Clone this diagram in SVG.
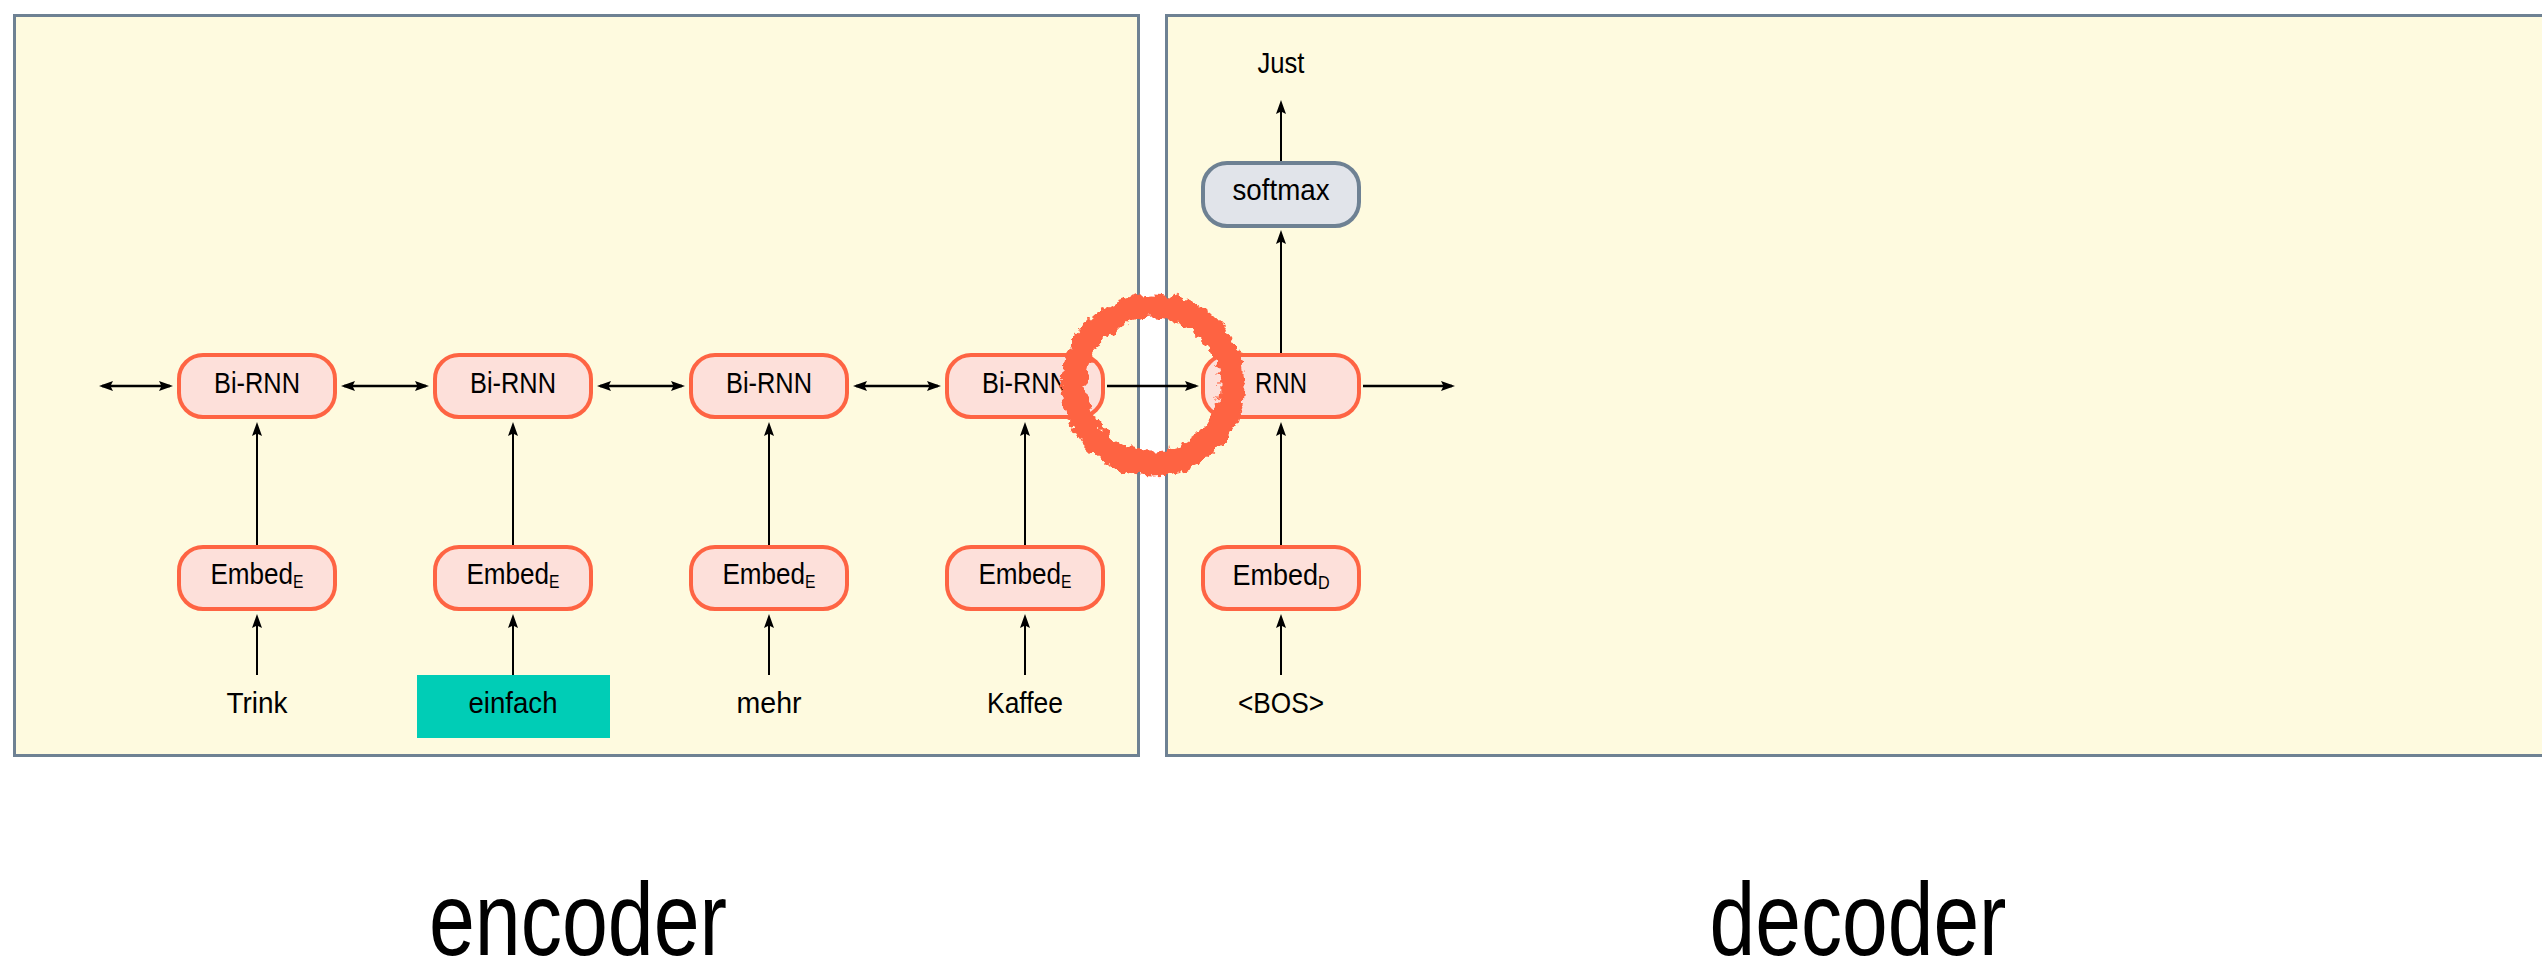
<svg xmlns="http://www.w3.org/2000/svg" width="2542" height="959" viewBox="0 0 2542 959">
  <defs>
    <style>
      .panel { fill: #fefadf; stroke: #6e8193; stroke-width: 3; }
      .node rect { fill: #fde0da; stroke: #fe6443; stroke-width: 4; }
      .node.gray rect { fill: #e1e4ea; stroke: #6e8193; }
      text { font-family: "Liberation Sans", Arial, sans-serif; fill: #000; }
      .lbl { font-size: 30px; text-anchor: middle; }
      .sub { font-size: 18px; }
      .big { font-size: 104px; text-anchor: middle; }
      .h { stroke: #000; stroke-width: 2.5; fill: none; }
      .v { stroke: #000; stroke-width: 2; fill: none; }
      .ring { fill: none; stroke: #fe6443; stroke-width: 25; }
    </style>
    <marker id="ah" viewBox="0 0 14 10" refX="11" refY="5" markerWidth="14" markerHeight="10" markerUnits="userSpaceOnUse" orient="auto-start-reverse">
      <path d="M0,0 L14,5 L0,10 L2.5,5 Z" fill="#000"/>
    </marker>
    <filter id="rough" x="-20%" y="-20%" width="140%" height="140%">
      <feTurbulence type="fractalNoise" baseFrequency="0.11" numOctaves="3" seed="7" result="n"/>
      <feDisplacementMap in="SourceGraphic" in2="n" scale="14" xChannelSelector="R" yChannelSelector="G"/>
    </filter>
  </defs>

  <!-- panels -->
  <g id="encoder-panel">
    <rect class="panel" x="14.5" y="15.5" width="1124" height="740"/>
  </g>
  <g id="decoder-panel">
    <rect class="panel" x="1166.5" y="15.5" width="1420" height="740"/>
  </g>

  <!-- connectors -->
  <g id="connectors">
    <line class="h" x1="102" y1="386" x2="170" y2="386" marker-start="url(#ah)" marker-end="url(#ah)"/>
    <line class="h" x1="344" y1="386" x2="426" y2="386" marker-start="url(#ah)" marker-end="url(#ah)"/>
    <line class="h" x1="600" y1="386" x2="682" y2="386" marker-start="url(#ah)" marker-end="url(#ah)"/>
    <line class="h" x1="856" y1="386" x2="938" y2="386" marker-start="url(#ah)" marker-end="url(#ah)"/>
    <line class="h" x1="1107" y1="386" x2="1196" y2="386" marker-end="url(#ah)"/>
    <line class="h" x1="1363" y1="386" x2="1452" y2="386" marker-end="url(#ah)"/>

    <line class="v" x1="257" y1="545" x2="257" y2="425" marker-end="url(#ah)"/>
    <line class="v" x1="513" y1="545" x2="513" y2="425" marker-end="url(#ah)"/>
    <line class="v" x1="769" y1="545" x2="769" y2="425" marker-end="url(#ah)"/>
    <line class="v" x1="1025" y1="545" x2="1025" y2="425" marker-end="url(#ah)"/>
    <line class="v" x1="1281" y1="545" x2="1281" y2="425" marker-end="url(#ah)"/>

    <line class="v" x1="257" y1="675" x2="257" y2="617" marker-end="url(#ah)"/>
    <line class="v" x1="513" y1="675" x2="513" y2="617" marker-end="url(#ah)"/>
    <line class="v" x1="769" y1="675" x2="769" y2="617" marker-end="url(#ah)"/>
    <line class="v" x1="1025" y1="675" x2="1025" y2="617" marker-end="url(#ah)"/>
    <line class="v" x1="1281" y1="675" x2="1281" y2="617" marker-end="url(#ah)"/>

    <line class="v" x1="1281" y1="353" x2="1281" y2="233" marker-end="url(#ah)"/>
    <line class="v" x1="1281" y1="161" x2="1281" y2="103" marker-end="url(#ah)"/>
  </g>

  <!-- encoder recurrent cells -->
  <g id="birnn-1" class="node"><rect x="179" y="355" width="156" height="62" rx="24"/><text class="lbl" x="257" y="393" textLength="86" lengthAdjust="spacingAndGlyphs">Bi-RNN</text></g>
  <g id="birnn-2" class="node"><rect x="435" y="355" width="156" height="62" rx="24"/><text class="lbl" x="513" y="393" textLength="86" lengthAdjust="spacingAndGlyphs">Bi-RNN</text></g>
  <g id="birnn-3" class="node"><rect x="691" y="355" width="156" height="62" rx="24"/><text class="lbl" x="769" y="393" textLength="86" lengthAdjust="spacingAndGlyphs">Bi-RNN</text></g>
  <g id="birnn-4" class="node"><rect x="947" y="355" width="156" height="62" rx="24"/><text class="lbl" x="1025" y="393" textLength="86" lengthAdjust="spacingAndGlyphs">Bi-RNN</text></g>

  <!-- encoder embeddings (labels narrowed with a horizontal scale) -->
  <g id="embed-e-1" class="node"><rect x="179" y="547" width="156" height="62" rx="24"/><text class="lbl" transform="translate(257 584) scale(0.87 1)">Embed<tspan class="sub" dy="4">E</tspan></text></g>
  <g id="embed-e-2" class="node"><rect x="435" y="547" width="156" height="62" rx="24"/><text class="lbl" transform="translate(513 584) scale(0.87 1)">Embed<tspan class="sub" dy="4">E</tspan></text></g>
  <g id="embed-e-3" class="node"><rect x="691" y="547" width="156" height="62" rx="24"/><text class="lbl" transform="translate(769 584) scale(0.87 1)">Embed<tspan class="sub" dy="4">E</tspan></text></g>
  <g id="embed-e-4" class="node"><rect x="947" y="547" width="156" height="62" rx="24"/><text class="lbl" transform="translate(1025 584) scale(0.87 1)">Embed<tspan class="sub" dy="4">E</tspan></text></g>

  <!-- source words -->
  <g id="word-trink"><text class="lbl" x="257" y="713" textLength="61" lengthAdjust="spacingAndGlyphs">Trink</text></g>
  <g id="word-einfach"><rect x="417" y="675" width="193" height="63" fill="#00cdb6"/><text class="lbl" x="513" y="713" textLength="89" lengthAdjust="spacingAndGlyphs">einfach</text></g>
  <g id="word-mehr"><text class="lbl" x="769" y="713" textLength="65" lengthAdjust="spacingAndGlyphs">mehr</text></g>
  <g id="word-kaffee"><text class="lbl" x="1025" y="713" textLength="76" lengthAdjust="spacingAndGlyphs">Kaffee</text></g>

  <!-- decoder -->
  <g id="rnn" class="node"><rect x="1203" y="355" width="156" height="62" rx="24"/><text class="lbl" x="1281" y="393" textLength="52" lengthAdjust="spacingAndGlyphs">RNN</text></g>
  <g id="embed-d" class="node"><rect x="1203" y="547" width="156" height="62" rx="24"/><text class="lbl" transform="translate(1281 585) scale(0.9 1)">Embed<tspan class="sub" dy="4">D</tspan></text></g>
  <g id="softmax" class="node gray"><rect x="1203" y="163" width="156" height="63" rx="24"/><text class="lbl" x="1281" y="200" textLength="97" lengthAdjust="spacingAndGlyphs">softmax</text></g>
  <g id="word-bos"><text class="lbl" x="1281" y="713" textLength="86" lengthAdjust="spacingAndGlyphs">&lt;BOS&gt;</text></g>
  <g id="word-just"><text class="lbl" x="1281" y="73" textLength="47" lengthAdjust="spacingAndGlyphs">Just</text></g>

  <!-- hand-drawn highlight over the encoder/decoder hand-off -->
  <g id="highlight">
    <circle class="ring" cx="1153" cy="385" r="79" filter="url(#rough)"/>
  </g>

  <!-- section captions -->
  <g id="caption-encoder"><text class="big" x="578" y="955" textLength="298" lengthAdjust="spacingAndGlyphs">encoder</text></g>
  <g id="caption-decoder"><text class="big" x="1858" y="955" textLength="297" lengthAdjust="spacingAndGlyphs">decoder</text></g>
</svg>
